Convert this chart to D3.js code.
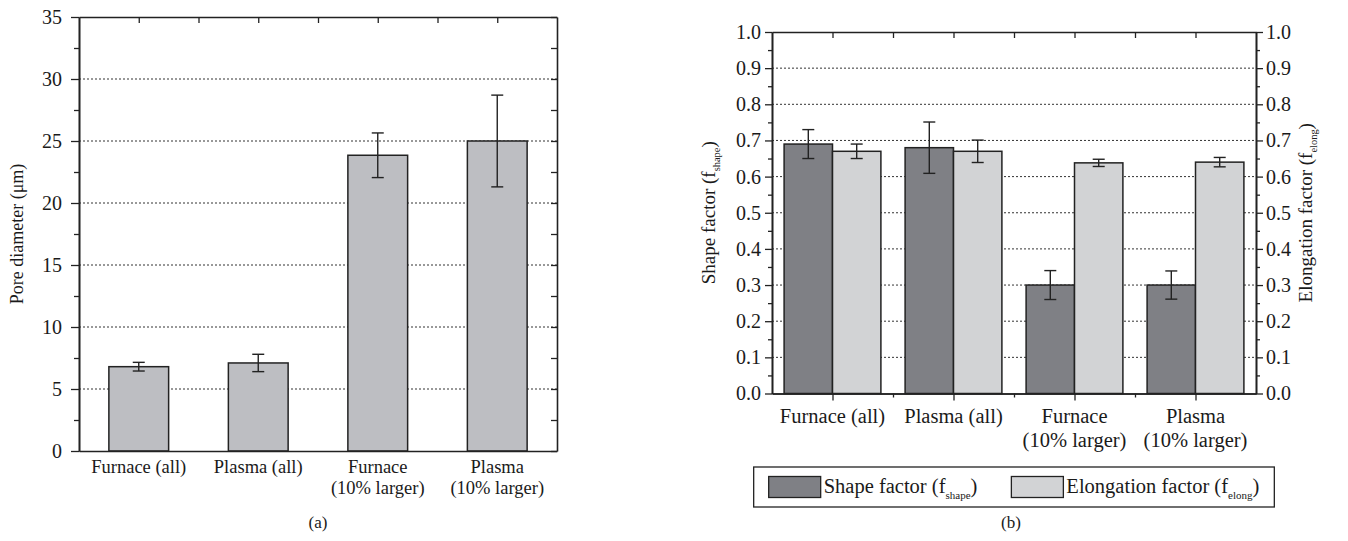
<!DOCTYPE html>
<html><head><meta charset="utf-8">
<script src="https://cdn.jsdelivr.net/npm/d3@7"></script>
<style>
body{margin:0;background:#fff}
svg{display:block}
svg text{font-family:"Liberation Serif","Tinos","Times New Roman","DejaVu Serif",serif !important;fill:#1a1a1a}
</style>
</head><body>
<svg id="c" width="1348" height="541"></svg>
<script>
// ---------- data ----------
const categories = ["Furnace (all)", "Plasma (all)", "Furnace\n(10% larger)", "Plasma\n(10% larger)"];
const poreDiameter = [6.8, 7.1, 23.85, 25.0];
const poreDiameterErr = [0.35, 0.7, 1.8, 3.7];
const shapeFactor = [0.69, 0.68, 0.30, 0.30];
const shapeFactorErr = [0.04, 0.071, 0.04, 0.039];
const elongFactor = [0.67, 0.67, 0.638, 0.64];
const elongFactorErr = [0.02, 0.031, 0.01, 0.013];
const poreTicks = [0, 5, 10, 15, 20, 25, 30, 35];
const poreMinorTicks = [2.5, 7.5, 12.5, 17.5, 22.5, 27.5, 32.5];
const factorTicks = [0.0, 0.1, 0.2, 0.3, 0.4, 0.5, 0.6, 0.7, 0.8, 0.9, 1.0];
const factorMinorTicks = [0.05, 0.15, 0.25, 0.35, 0.45, 0.55, 0.65, 0.75, 0.85, 0.95];
const seriesNames = ["Shape factor", "Elongation factor"];
const seriesSubs = ["shape", "elong"];

// ---------- styles ----------
const AX = "#222", AXW = 1.6;
const svg = d3.select("#c");

function styleAxis(g, fs){
  g.attr("font-family", null).attr("font-size", null);
  g.selectAll(".domain").attr("stroke", AX).attr("stroke-width", AXW);
  g.selectAll(".tick line").attr("stroke", AX).attr("stroke-width", 1.3);
  g.selectAll(".tick text").attr("font-size", fs || 20).attr("fill", "#1a1a1a");
  return g;
}
function catLabels(g, xs, y, fs, lh){
  categories.forEach((c, i) => {
    const t = g.append("text").attr("text-anchor", "middle").attr("font-size", fs).attr("x", xs[i]).attr("y", y);
    c.split("\n").forEach((line, j) => t.append("tspan").attr("x", xs[i]).attr("dy", j === 0 ? 0 : lh).text(line));
  });
}
function subTitle(g, main, sub, x, y, rot, fs){
  const t = g.append("text").attr("text-anchor", "middle").attr("font-size", fs)
    .attr("transform", `translate(${x},${y}) rotate(${rot})`);
  t.append("tspan").text(main + " (f");
  t.append("tspan").attr("font-size", fs * 0.55).attr("dy", 5).text(sub);
  t.append("tspan").attr("dy", -5).text(")");
  return t;
}

// ================= Chart (a) =================
{
  const L = 79, R = 557, T = 17, B = 451;
  const g = svg.append("g");
  const x = d3.scaleBand().domain(categories).range([L, R]).paddingInner(0.5).paddingOuter(0.25);
  const xh = d3.scaleLinear().domain([0, categories.length]).range([L, R]);
  const y = d3.scaleLinear().domain([0, 35]).range([B, T]);

  g.append("g").selectAll("line").data(poreTicks.filter(v => v > 0 && v < 35)).join("line")
    .attr("x1", L).attr("x2", R).attr("y1", d => y(d)).attr("y2", d => y(d))
    .attr("stroke", "#333").attr("stroke-width", 1).attr("stroke-dasharray", "2,2");

  g.append("g").selectAll("rect").data(poreDiameter).join("rect")
    .attr("x", (d, i) => x(categories[i])).attr("width", x.bandwidth())
    .attr("y", d => y(d)).attr("height", d => y(0) - y(d))
    .attr("fill", "#bdbec2").attr("stroke", AX).attr("stroke-width", 1.5);

  const eb = g.append("g").attr("stroke", AX).attr("stroke-width", 1.4);
  poreDiameter.forEach((v, i) => {
    const cx = x(categories[i]) + x.bandwidth() / 2, e = poreDiameterErr[i];
    eb.append("line").attr("x1", cx).attr("x2", cx).attr("y1", y(v + e)).attr("y2", y(v - e));
    eb.append("line").attr("x1", cx - 6).attr("x2", cx + 6).attr("y1", y(v + e)).attr("y2", y(v + e));
    eb.append("line").attr("x1", cx - 6).attr("x2", cx + 6).attr("y1", y(v - e)).attr("y2", y(v - e));
  });

  styleAxis(g.append("g").attr("transform", `translate(${L},0)`)
    .call(d3.axisLeft(y).tickValues(poreTicks).tickSize(8).tickSizeOuter(0).tickPadding(9)), 20);
  styleAxis(g.append("g").attr("transform", `translate(${L},0)`)
    .call(d3.axisLeft(y).tickValues(poreMinorTicks).tickSize(5).tickSizeOuter(0).tickFormat("")));
  styleAxis(g.append("g").attr("transform", `translate(${R},0)`)
    .call(d3.axisRight(y).tickValues(poreTicks.concat(poreMinorTicks)).tickSize(-6).tickSizeOuter(0).tickFormat("")));
  styleAxis(g.append("g").attr("transform", `translate(0,${T})`)
    .call(d3.axisTop(xh).tickValues(d3.range(0.5, categories.length, 0.5)).tickSize(-6).tickSizeOuter(0).tickFormat("")));
  styleAxis(g.append("g").attr("transform", `translate(0,${B})`)
    .call(d3.axisBottom(xh).tickValues([]).tickSizeOuter(0)));

  catLabels(g, categories.map(c => x(c) + x.bandwidth() / 2), B + 22, 18.5, 21);

  g.append("text").attr("text-anchor", "middle").attr("font-size", 18)
    .attr("transform", `translate(23,${(T + B) / 2}) rotate(-90)`).text("Pore diameter (μm)");
  g.append("text").attr("text-anchor", "middle").attr("font-size", 17).attr("x", (L + R) / 2).attr("y", 528).text("(a)");
}

// ================= Chart (b) =================
{
  const L = 772, R = 1256, T = 32, B = 393.5;
  const g = svg.append("g");
  const x = d3.scaleBand().domain(categories).range([L, R]).paddingInner(0.2).paddingOuter(0.1);
  const xs = d3.scaleBand().domain([0, 1]).range([0, x.bandwidth()]);
  const xh = d3.scaleLinear().domain([0, categories.length]).range([L, R]);
  const y = d3.scaleLinear().domain([0, 1]).range([B, T]);
  const fills = ["#7f8085", "#d2d3d5"];
  const vals = [shapeFactor, elongFactor], errs = [shapeFactorErr, elongFactorErr];

  g.append("g").selectAll("line").data(factorTicks.filter(v => v > 0.001 && v < 0.999)).join("line")
    .attr("x1", L).attr("x2", R).attr("y1", d => y(d)).attr("y2", d => y(d))
    .attr("stroke", "#333").attr("stroke-width", 1).attr("stroke-dasharray", "2,2");

  vals.forEach((arr, s) => {
    g.append("g").selectAll("rect").data(arr).join("rect")
      .attr("x", (d, i) => x(categories[i]) + xs(s)).attr("width", xs.bandwidth())
      .attr("y", d => y(d)).attr("height", d => y(0) - y(d))
      .attr("fill", fills[s]).attr("stroke", AX).attr("stroke-width", 1.5);
  });
  const eb = g.append("g").attr("stroke", AX).attr("stroke-width", 1.4);
  vals.forEach((arr, s) => arr.forEach((v, i) => {
    const cx = x(categories[i]) + xs(s) + xs.bandwidth() / 2, e = errs[s][i];
    eb.append("line").attr("x1", cx).attr("x2", cx).attr("y1", y(v + e)).attr("y2", y(v - e));
    eb.append("line").attr("x1", cx - 6).attr("x2", cx + 6).attr("y1", y(v + e)).attr("y2", y(v + e));
    eb.append("line").attr("x1", cx - 6).attr("x2", cx + 6).attr("y1", y(v - e)).attr("y2", y(v - e));
  }));

  const fmt = d3.format(".1f");
  styleAxis(g.append("g").attr("transform", `translate(${L},0)`)
    .call(d3.axisLeft(y).tickValues(factorTicks).tickSize(7).tickSizeOuter(0).tickPadding(4).tickFormat(fmt)), 20);
  styleAxis(g.append("g").attr("transform", `translate(${L},0)`)
    .call(d3.axisLeft(y).tickValues(factorMinorTicks).tickSize(4).tickSizeOuter(0).tickFormat("")));
  styleAxis(g.append("g").attr("transform", `translate(${R},0)`)
    .call(d3.axisRight(y).tickValues(factorTicks).tickSize(7).tickSizeOuter(0).tickPadding(3).tickFormat(fmt)), 20);
  styleAxis(g.append("g").attr("transform", `translate(${R},0)`)
    .call(d3.axisRight(y).tickValues(factorMinorTicks).tickSize(4).tickSizeOuter(0).tickFormat("")));
  styleAxis(g.append("g").attr("transform", `translate(0,${T})`)
    .call(d3.axisTop(xh).tickValues(d3.range(0.5, categories.length, 0.5)).tickSize(-6).tickSizeOuter(0).tickFormat("")));
  styleAxis(g.append("g").attr("transform", `translate(0,${B})`)
    .call(d3.axisBottom(xh).tickValues(d3.range(0.5, categories.length, 1)).tickSize(7).tickSizeOuter(0).tickFormat("")));
  styleAxis(g.append("g").attr("transform", `translate(0,${B})`)
    .call(d3.axisBottom(xh).tickValues(d3.range(1, categories.length, 1)).tickSize(4).tickSizeOuter(0).tickFormat("")));

  catLabels(g, categories.map(c => x(c) + x.bandwidth() / 2), B + 29, 20.5, 24);

  subTitle(g, seriesNames[0], seriesSubs[0], 715, (T + B) / 2, -90, 19);
  subTitle(g, seriesNames[1], seriesSubs[1], 1312, (T + B) / 2, -90, 19);

  // legend
  const lg = g.append("g");
  const ly = 487, sw = 52, sh = 21;
  const items = [];
  seriesNames.forEach((n, s) => {
    const it = lg.append("g");
    it.append("rect").attr("x", 0).attr("y", -sh / 2).attr("width", sw).attr("height", sh)
      .attr("fill", fills[s]).attr("stroke", AX).attr("stroke-width", 1.3);
    const t = it.append("text").attr("x", sw + 3).attr("y", 6).attr("font-size", 20.5);
    t.append("tspan").text(n + " (f");
    t.append("tspan").attr("font-size", 11).attr("dy", 6).text(seriesSubs[s]);
    t.append("tspan").attr("dy", -6).text(")");
    const w = sw + 3 + t.node().getComputedTextLength();
    items.push({it, w});
  });
  const gap = 34, pad = 15;
  const total = items[0].w + gap + items[1].w;
  const lx0 = (L + R) / 2 - total / 2;
  items[0].it.attr("transform", `translate(${lx0},${ly})`);
  items[1].it.attr("transform", `translate(${lx0 + items[0].w + gap},${ly})`);
  lg.insert("rect", ":first-child").attr("x", lx0 - pad).attr("y", ly - 20).attr("width", total + 2 * pad).attr("height", 40)
    .attr("fill", "#fff").attr("stroke", AX).attr("stroke-width", 1.3);

  g.append("text").attr("text-anchor", "middle").attr("font-size", 17).attr("x", (L + R) / 2 - 3).attr("y", 528).text("(b)");
}
</script>
</body></html>
